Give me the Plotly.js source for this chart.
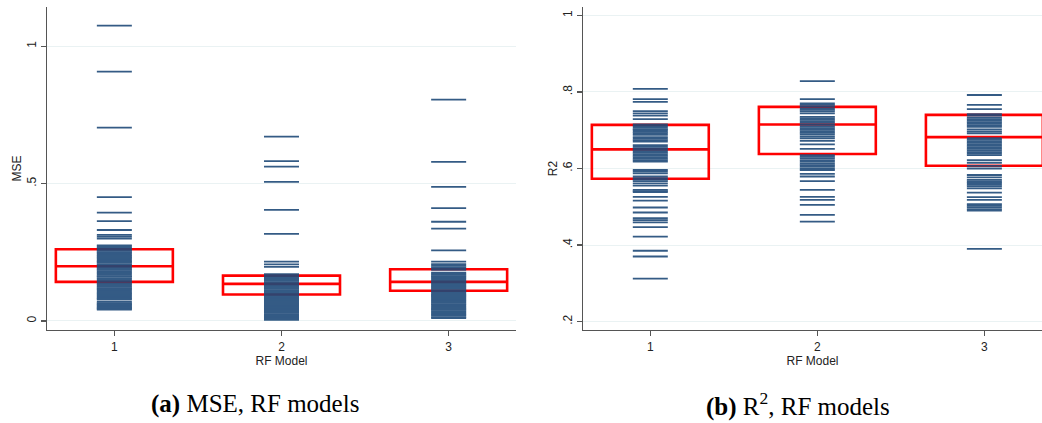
<!DOCTYPE html>
<html>
<head>
<meta charset="utf-8">
<script src="https://cdn.plot.ly/plotly-3.0.1.min.js"></script>
<style>html,body{margin:0;padding:0;background:#fff;}#chart{width:1042px;height:423px;}</style>
</head>
<body>
<div id="chart"></div>
<script>
// ---- data ----
const models = [1, 2, 3];
const modelTicks = ["1", "2", "3"];

const mse1 = [1.075, 0.908, 0.704, 0.451, 0.394, 0.363, 0.331, 0.313, 0.307, 0.300,
  0.275, 0.271, 0.266, 0.262, 0.259, 0.255, 0.250, 0.247, 0.241, 0.238, 0.233, 0.229, 0.224,
  0.219, 0.216, 0.212, 0.207, 0.203, 0.197, 0.194, 0.190, 0.186, 0.181, 0.176, 0.173, 0.168,
  0.163, 0.160, 0.155, 0.151, 0.146, 0.142, 0.137, 0.133, 0.129, 0.124, 0.119, 0.116, 0.111,
  0.107, 0.102, 0.098, 0.093, 0.089, 0.085, 0.081, 0.078,
  0.069, 0.065, 0.061, 0.058, 0.054, 0.050, 0.047, 0.044, 0.041];
const mse2 = [0.671, 0.582, 0.562, 0.506, 0.404, 0.317, 0.216, 0.206, 0.197,
  0.170, 0.166, 0.163, 0.158, 0.154, 0.150, 0.146, 0.141, 0.137, 0.133, 0.129, 0.125, 0.121,
  0.117, 0.112, 0.108, 0.104, 0.100, 0.096, 0.091, 0.087, 0.083, 0.079, 0.075, 0.071, 0.066,
  0.062, 0.058, 0.054, 0.050, 0.046, 0.041, 0.037, 0.033, 0.029, 0.025, 0.021, 0.016, 0.012,
  0.008, 0.004];
const mse3 = [0.806, 0.579, 0.488, 0.411, 0.361, 0.336, 0.257,
  0.216, 0.207, 0.201, 0.196, 0.190, 0.186, 0.176, 0.172, 0.168, 0.163, 0.159, 0.155, 0.150,
  0.146, 0.142, 0.138, 0.133, 0.129, 0.125, 0.121, 0.117, 0.112, 0.108, 0.104, 0.099, 0.095,
  0.091, 0.087, 0.082, 0.078, 0.074, 0.070, 0.066, 0.061, 0.057, 0.052, 0.048, 0.044, 0.040,
  0.036, 0.031, 0.027, 0.023, 0.019, 0.014, 0.010];

const r2_1 = [0.808, 0.781, 0.774, 0.750, 0.744, 0.738, 0.729,
  0.715, 0.711, 0.707, 0.703, 0.700, 0.696, 0.692, 0.688, 0.682, 0.678, 0.674, 0.670,
  0.661, 0.657, 0.653, 0.649, 0.645, 0.641, 0.637, 0.633, 0.629, 0.625, 0.621, 0.618,
  0.596, 0.592, 0.587, 0.579, 0.575, 0.571, 0.567, 0.561, 0.555, 0.544, 0.541, 0.538,
  0.526, 0.516, 0.498, 0.485, 0.470, 0.465, 0.459, 0.447, 0.422, 0.385, 0.370, 0.312];
const r2_2 = [0.828, 0.781, 0.770, 0.766, 0.762, 0.757, 0.753, 0.749, 0.744,
  0.735, 0.731, 0.727, 0.723, 0.719, 0.714, 0.709, 0.705, 0.701, 0.697, 0.693, 0.689,
  0.684, 0.679, 0.672, 0.663, 0.651, 0.635, 0.631, 0.627, 0.622, 0.618, 0.613, 0.609,
  0.605, 0.600, 0.596, 0.586, 0.579, 0.567, 0.544, 0.526, 0.518, 0.505, 0.479, 0.461];
const r2_3 = [0.792, 0.766, 0.755, 0.742, 0.738, 0.733, 0.729, 0.725, 0.721, 0.717,
  0.713, 0.709, 0.702, 0.697, 0.692, 0.679, 0.675, 0.671, 0.667, 0.663, 0.659, 0.655,
  0.651, 0.647, 0.643, 0.639, 0.635, 0.622, 0.615, 0.607, 0.600, 0.583, 0.577, 0.570,
  0.566, 0.562, 0.557, 0.553, 0.548, 0.537, 0.525, 0.518, 0.507, 0.503, 0.499, 0.494,
  0.490, 0.390];

// box summaries (q1, median, q3)
const mseQ1 = [0.142, 0.096, 0.110];
const mseMed = [0.199, 0.135, 0.142];
const mseQ3 = [0.261, 0.165, 0.188];
const r2Q1 = [0.573, 0.638, 0.607];
const r2Med = [0.650, 0.715, 0.682];
const r2Q3 = [0.714, 0.761, 0.740];

// ---- styles ----
const dashColor = '#1f4a78';
function strip(vals, xv, xa, ya) {
  return {
    type: 'scatter', mode: 'markers', xaxis: xa, yaxis: ya,
    x: vals.map(() => xv), y: vals,
    marker: {symbol: 'line-ew', size: 25, color: dashColor,
             line: {color: dashColor, width: 1.8}},
    opacity: 0.9, hoverinfo: 'y', showlegend: false, cliponaxis: true
  };
}
function boxes(q1, med, q3, xa, ya) {
  return {
    type: 'box', xaxis: xa, yaxis: ya, x: models,
    q1: q1, median: med, q3: q3, lowerfence: q1, upperfence: q3,
    width: 0.7, whiskerwidth: 0, boxpoints: false,
    line: {color: '#ff0000', width: 2.6},
    fillcolor: 'rgba(0,0,0,0)', showlegend: false, hoverinfo: 'skip'
  };
}

const traces = [
  strip(mse1, 1, 'x', 'y'), strip(mse2, 2, 'x', 'y'), strip(mse3, 3, 'x', 'y'),
  boxes(mseQ1, mseMed, mseQ3, 'x', 'y'),
  strip(r2_1, 1, 'x2', 'y2'), strip(r2_2, 2, 'x2', 'y2'), strip(r2_3, 3, 'x2', 'y2'),
  boxes(r2Q1, r2Med, r2Q3, 'x2', 'y2')
];

const tickFont = {family: 'Liberation Sans, Arial, sans-serif', size: 12, color: '#222'};
const axCommon = {
  showline: true, linecolor: '#555', linewidth: 1.3, ticks: 'outside', ticklen: 5,
  tickcolor: '#555', tickwidth: 1.2, tickfont: tickFont, zeroline: false
};
const xCommon = Object.assign({}, axCommon, {
  tickvals: models, ticktext: modelTicks, showgrid: false,
  title: {text: 'RF Model', font: tickFont, standoff: 0}
});

const layout = {
  width: 1042, height: 423,
  margin: {l: 0, r: 0, t: 0, b: 0},
  paper_bgcolor: '#fff', plot_bgcolor: '#fff',
  showlegend: false,
  xaxis: Object.assign({}, xCommon, {domain: [0.0451, 0.4952], range: [0.597, 3.403], anchor: 'y'}),
  yaxis: Object.assign({}, axCommon, {
    domain: [0.2199, 0.9835], range: [-0.033, 1.143], anchor: 'x',
    tickvals: [0, 0.5, 1], ticktext: ['0', '.5', '1'], tickangle: -90,
    showgrid: true, gridcolor: '#eaf2f3', gridwidth: 1,
    title: {text: 'MSE', font: tickFont, standoff: 0}
  }),
  xaxis2: Object.assign({}, xCommon, {domain: [0.5595, 1.0], range: [0.597, 3.345], anchor: 'y2'}),
  yaxis2: Object.assign({}, axCommon, {
    domain: [0.2199, 0.9835], range: [0.178, 1.022], anchor: 'x2',
    tickvals: [0.2, 0.4, 0.6, 0.8, 1], ticktext: ['.2', '.4', '.6', '.8', '1'], tickangle: -90,
    showgrid: true, gridcolor: '#eaf2f3', gridwidth: 1,
    title: {text: 'R2', font: tickFont, standoff: 0}
  }),
  annotations: [
    {xref: 'paper', yref: 'paper', x: 255 / 1042, y: 1 - 404 / 423, xanchor: 'center', yanchor: 'middle',
     showarrow: false, text: '<b>(a)</b> MSE, RF models',
     font: {family: 'Liberation Serif, serif', size: 25, color: '#000'}},
    {xref: 'paper', yref: 'paper', x: 798 / 1042, y: 1 - 404 / 423, xanchor: 'center', yanchor: 'middle',
     showarrow: false, text: '<b>(b)</b> R<sup>2</sup>, RF models',
     font: {family: 'Liberation Serif, serif', size: 25, color: '#000'}}
  ]
};

Plotly.newPlot('chart', traces, layout, {displayModeBar: false, staticPlot: true});
</script>
</body>
</html>
